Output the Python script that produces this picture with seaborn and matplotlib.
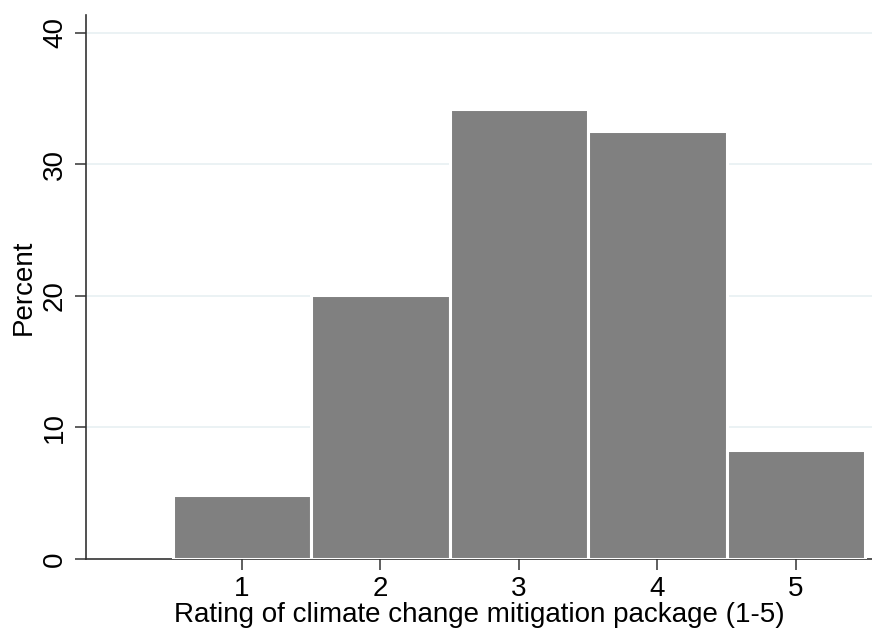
import matplotlib
matplotlib.use("Agg")
import matplotlib.pyplot as plt
import seaborn as sns
import pandas as pd

ratings = [1, 2, 3, 4, 5]
percents = [4.85, 20.05, 34.2, 32.55, 8.3]
y_ticks = [0, 10, 20, 30, 40]
x_label = "Rating of climate change mitigation package (1-5)"
y_label = "Percent"

sns.set_theme(style="white")
plt.rcParams['font.family'] = ['Liberation Sans', 'DejaVu Sans']

df = pd.DataFrame({"rating": ratings, "percent": percents})

fig = plt.figure(figsize=(8.72, 6.32), dpi=100)
ax = fig.add_axes([86/872, 1 - 559/632, 1 - 86/872, (559 - 15)/632])

sns.barplot(data=df, x="rating", y="percent", native_scale=True, width=1.0,
            color="#808080", saturation=1, edgecolor="white", linewidth=2.2,
            ax=ax, zorder=3)

ax.set_xlim(-0.125, 5.55)
ax.set_ylim(0, 41.35)
ax.set_xticks(ratings)
ax.set_xticklabels([str(r) for r in ratings])
ax.set_yticks(y_ticks)
ax.set_yticklabels([str(t) for t in y_ticks], rotation=90, va="center")

for t in y_ticks[1:]:
    ax.axhline(t, color="#e8f0f2", linewidth=1.2, zorder=1)

for s in ["top", "right"]:
    ax.spines[s].set_visible(False)
for s in ["left", "bottom"]:
    ax.spines[s].set_color("#333333")
    ax.spines[s].set_linewidth(1.2)

ax.tick_params(axis="both", direction="out", length=8, width=1.1, color="#333333",
               labelsize=20, labelcolor="black", left=True, bottom=True)
ax.tick_params(axis="y", pad=5)
ax.tick_params(axis="x", pad=4)

ax.set_xlabel(x_label, fontsize=20, labelpad=0, color="black")
ax.set_ylabel(y_label, fontsize=20, labelpad=4, color="black")

fig.savefig("out.png", dpi=100)
